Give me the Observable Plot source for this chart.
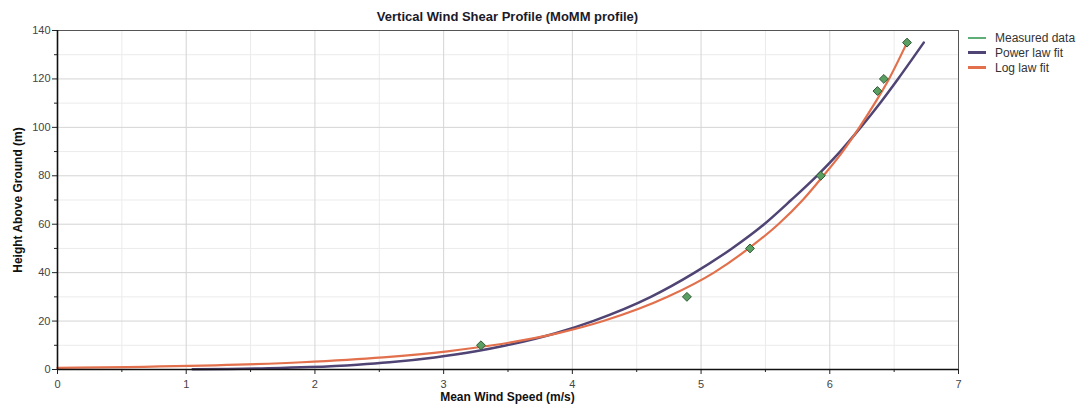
<!DOCTYPE html>
<html>
<head>
<meta charset="utf-8">
<script src="https://cdn.jsdelivr.net/npm/d3@7"></script>
<script src="https://cdn.jsdelivr.net/npm/@observablehq/plot@0.6"></script>
<style>
  html, body { margin: 0; padding: 0; background: #fff; }
  #wrap { position: relative; width: 1091px; height: 408px; font-family: "Liberation Sans", Arial, sans-serif; }
  #title { position: absolute; left: 57px; width: 901px; top: 9px; text-align: center; font-weight: bold; font-size: 13px; color: #1a1a2a; }
  #ylab { position: absolute; left: 18px; top: 200px; transform: translate(-50%, -50%) rotate(-90deg); white-space: nowrap; font-weight: bold; font-size: 12px; color: #111; }
  #xlab { position: absolute; left: 57px; width: 901px; top: 390px; text-align: center; font-weight: bold; font-size: 12px; color: #111; }
  #legend { position: absolute; left: 968px; top: 30px; font-size: 12px; color: #333; }
  #legend div { display: flex; align-items: center; height: 15px; }
  #legend span.sw { display: inline-block; width: 18px; margin-right: 9px; }
</style>
</head>
<body>
<div id="wrap">
  <div id="chart"></div>
  <div id="title"></div>
  <div id="ylab"></div>
  <div id="xlab"></div>
  <div id="legend"></div>
</div>
<script>
const titleText = "Vertical Wind Shear Profile (MoMM profile)";
const xLabel = "Mean Wind Speed (m/s)";
const yLabel = "Height Above Ground (m)";
const seriesNames = ["Measured data", "Power law fit", "Log law fit"];
const seriesColors = ["#5fae78", "#4f4474", "#e2704c"];

const xMajor = [0, 1, 2, 3, 4, 5, 6, 7];
const xMinor = [0.5, 1.5, 2.5, 3.5, 4.5, 5.5, 6.5];
const yMajor = [0, 20, 40, 60, 80, 100, 120, 140];
const yMinor = [10, 30, 50, 70, 90, 110, 130];

// Measured data
const measSpeed  = [3.29, 4.89, 5.38, 5.93, 6.37, 6.42, 6.60];
const measHeight = [10, 30, 50, 80, 115, 120, 135];

// Power law fit
const powSpeed  = [1.05, 1.64, 1.96, 2.33, 2.58, 2.93, 3.25, 3.49, 3.87, 4.16, 4.61, 4.95, 5.24, 5.49, 5.70, 5.90, 6.08, 6.24, 6.39, 6.53, 6.73];
const powHeight = [0.1, 0.5, 1, 2, 3, 5, 7.5, 10, 15, 20, 30, 40, 50, 60, 70, 80, 90, 100, 110, 120, 135];

// Log law fit
const logSpeed  = [0.00, 0.54, 1.40, 1.90, 2.53, 3.03, 3.38, 3.89, 4.24, 4.74, 5.10, 5.37, 5.60, 5.79, 5.95, 6.10, 6.23, 6.35, 6.46, 6.60];
const logHeight = [0.65, 1, 2, 3, 5, 7.5, 10, 15, 20, 30, 40, 50, 60, 70, 80, 90, 100, 110, 120, 135];

const meas = measSpeed.map((x, i) => ({x, y: measHeight[i]}));
const pow = powSpeed.map((x, i) => ({x, y: powHeight[i]}));
const logd = logSpeed.map((x, i) => ({x, y: logHeight[i]}));

const chart = Plot.plot({
  width: 1091,
  height: 408,
  marginLeft: 57,
  marginRight: 133,
  marginTop: 30,
  marginBottom: 39,
  style: { fontFamily: "'Liberation Sans', Arial, sans-serif", fontSize: "11px", color: "#444", background: "#fff" },
  x: { domain: [0, 7] },
  y: { domain: [0, 140] },
  marks: [
    Plot.ruleX(xMinor, { stroke: "#ebebeb", strokeWidth: 1 }),
    Plot.ruleY(yMinor, { stroke: "#ebebeb", strokeWidth: 1 }),
    Plot.ruleX(xMajor, { stroke: "#d4d4d4", strokeWidth: 1 }),
    Plot.ruleY(yMajor, { stroke: "#d4d4d4", strokeWidth: 1 }),
    Plot.frame({ stroke: "#555", strokeWidth: 1 }),
    Plot.line(pow, { x: "x", y: "y", stroke: seriesColors[1], strokeWidth: 2.5, curve: "monotone-x" }),
    Plot.line(logd, { x: "x", y: "y", stroke: seriesColors[2], strokeWidth: 2.2, curve: "monotone-x" }),
    Plot.dot(meas, { x: "x", y: "y", symbol: "diamond2", r: 4, fill: "#5a9e62", stroke: "#2f5a35", strokeWidth: 1 }),
    Plot.axisX(xMajor, { tickSize: 5, tickPadding: 6, stroke: "#222", fill: "#444", label: null, tickFormat: d => String(d) }),
    Plot.axisX(xMinor, { tickSize: 3, stroke: "#222", text: null, label: null }),
    Plot.axisY(yMajor, { tickSize: 5, tickPadding: 2, stroke: "#222", fill: "#444", label: null, tickFormat: d => String(d) }),
    Plot.axisY(yMinor, { tickSize: 3, stroke: "#222", text: null, label: null }),
    Plot.ruleX([0], { stroke: "#111", strokeWidth: 1.6 }),
    Plot.ruleY([0], { stroke: "#111", strokeWidth: 1.6 })
  ]
});
document.getElementById("chart").appendChild(chart);

document.getElementById("title").textContent = titleText;
document.getElementById("xlab").textContent = xLabel;
document.getElementById("ylab").textContent = yLabel;
const leg = document.getElementById("legend");
seriesNames.forEach((name, i) => {
  const row = document.createElement("div");
  const sw = document.createElement("span");
  sw.className = "sw";
  sw.style.height = i === 0 ? "2px" : "3px";
  sw.style.background = seriesColors[i];
  row.appendChild(sw);
  const t = document.createElement("span");
  t.textContent = name;
  row.appendChild(t);
  leg.appendChild(row);
});
</script>
</body>
</html>
